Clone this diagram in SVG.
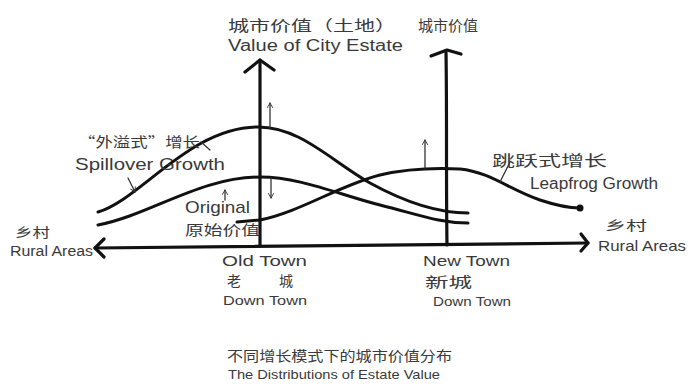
<svg xmlns="http://www.w3.org/2000/svg" width="688" height="387" viewBox="0 0 688 387">
<defs>
<style>
.ax{fill:none;stroke:#111;stroke-width:3.2;stroke-linecap:round;stroke-linejoin:round}
.cv{fill:none;stroke:#111;stroke-width:3;stroke-linecap:round;stroke-linejoin:round}
.sm{fill:none;stroke:#333;stroke-width:1.3;stroke-linecap:round}
.t{font-family:"Liberation Sans","Noto Sans CJK SC",sans-serif;fill:#3a3a3a}
.c{font-family:"Noto Sans CJK SC","Liberation Sans",sans-serif;fill:#3a3a3a}
</style>
<marker id="ah" viewBox="0 0 10 10" refX="8" refY="5" markerWidth="7" markerHeight="7" orient="auto" markerUnits="userSpaceOnUse">
<path d="M1,1 L8,5 L1,9" fill="none" stroke="#333" stroke-width="1.3"/>
</marker>
</defs>
<rect width="688" height="387" fill="#fff"/>

<g id="axes" class="connectors">
<path class="ax" d="M260,245 L260,60"/>
<path class="ax" d="M245,72 L260,60 L274,70"/>
<path class="ax" d="M447,245 C446,180 447,110 446,52"/>
<path class="ax" d="M431,56 L447,50 L461,54"/>
<path class="ax" d="M95,248 L588,243"/>
<path class="ax" d="M104,239 L95,248 L104,257"/>
<path class="ax" d="M581,234 L588,243 L581,251"/>
</g>

<g id="curves" class="connectors">
<path id="spillover-curve" class="cv" d="M98,212 C140,200 190,127 258,127 C300,127 330,160 370,183 C410,205 440,213 468,213"/>
<path id="original-curve" class="cv" d="M98,225 C150,215 200,177 260,177 C300,177 340,195 380,205 C420,215 440,223 468,223"/>
<path id="leapfrog-curve" class="cv" d="M237,222 L260,220 C300,212 340,185 380,175 C410,168 440,168 460,169 C490,172 510,190 540,200 C555,205 570,208 580,208"/>
<circle cx="580" cy="208" r="3.5" fill="#111"/>
<path class="sm" d="M270,128 L270,103" marker-end="url(#ah)"/>
<path class="sm" d="M271,178 L271,198" marker-end="url(#ah)"/>
<path class="sm" d="M225,200 L225,190" marker-end="url(#ah)"/>
<path class="sm" d="M425,168 L425,140" marker-end="url(#ah)"/>
<path class="sm" d="M128,178 L135,192" marker-end="url(#ah)"/>
<path class="sm" d="M510,162 L500,182"/>
<path class="sm" d="M201,142 L210,150"/>
</g>

<g id="y-axis-label">
<text class="c" x="228" y="31" font-size="15" textLength="168" lengthAdjust="spacingAndGlyphs">城市价值（土地）</text>
<text class="t" x="228" y="51" font-size="16" textLength="175" lengthAdjust="spacingAndGlyphs">Value of City Estate</text>
</g>
<g id="y-axis-label-2">
<text class="c" x="418" y="31" font-size="15" textLength="60" lengthAdjust="spacingAndGlyphs">城市价值</text>
</g>
<g id="spillover-label">
<text class="c" x="78" y="147" font-size="14" textLength="122" lengthAdjust="spacingAndGlyphs">“外溢式”增长</text>
<text class="t" x="75" y="170" font-size="17" textLength="150" lengthAdjust="spacingAndGlyphs">Spillover Growth</text>
</g>
<g id="original-label">
<text class="t" x="185" y="213" font-size="17" textLength="65" lengthAdjust="spacingAndGlyphs">Original</text>
<text class="c" x="185" y="235" font-size="14" textLength="75" lengthAdjust="spacingAndGlyphs">原始价值</text>
</g>
<g id="leapfrog-label">
<text class="c" x="492" y="166" font-size="15" textLength="115" lengthAdjust="spacingAndGlyphs">跳跃式增长</text>
<text class="t" x="530" y="189" font-size="16" textLength="128" lengthAdjust="spacingAndGlyphs">Leapfrog Growth</text>
</g>
<g id="rural-left">
<text class="c" x="15" y="237" font-size="13" textLength="35" lengthAdjust="spacingAndGlyphs">乡村</text>
<text class="t" x="10" y="256" font-size="14" textLength="83" lengthAdjust="spacingAndGlyphs">Rural Areas</text>
</g>
<g id="rural-right">
<text class="c" x="605" y="230" font-size="13" textLength="42" lengthAdjust="spacingAndGlyphs">乡村</text>
<text class="t" x="598" y="251" font-size="15" textLength="88" lengthAdjust="spacingAndGlyphs">Rural Areas</text>
</g>
<g id="old-town">
<text class="t" x="222" y="266" font-size="15" textLength="85" lengthAdjust="spacingAndGlyphs">Old Town</text>
<text class="c" x="227" y="286" font-size="14" textLength="66" lengthAdjust="spacing">老城</text>
<text class="t" x="223" y="305" font-size="13" textLength="84" lengthAdjust="spacingAndGlyphs">Down Town</text>
</g>
<g id="new-town">
<text class="t" x="423" y="266" font-size="15" textLength="87" lengthAdjust="spacingAndGlyphs">New Town</text>
<text class="c" x="425" y="287" font-size="14" textLength="47" lengthAdjust="spacingAndGlyphs">新城</text>
<text class="t" x="433" y="306" font-size="13" textLength="78" lengthAdjust="spacingAndGlyphs">Down Town</text>
</g>
<g id="title">
<text class="c" x="227" y="361" font-size="14" textLength="225" lengthAdjust="spacingAndGlyphs">不同增长模式下的城市价值分布</text>
<text class="t" x="228" y="379" font-size="13" textLength="212" lengthAdjust="spacingAndGlyphs">The Distributions of Estate Value</text>
</g>
</svg>
